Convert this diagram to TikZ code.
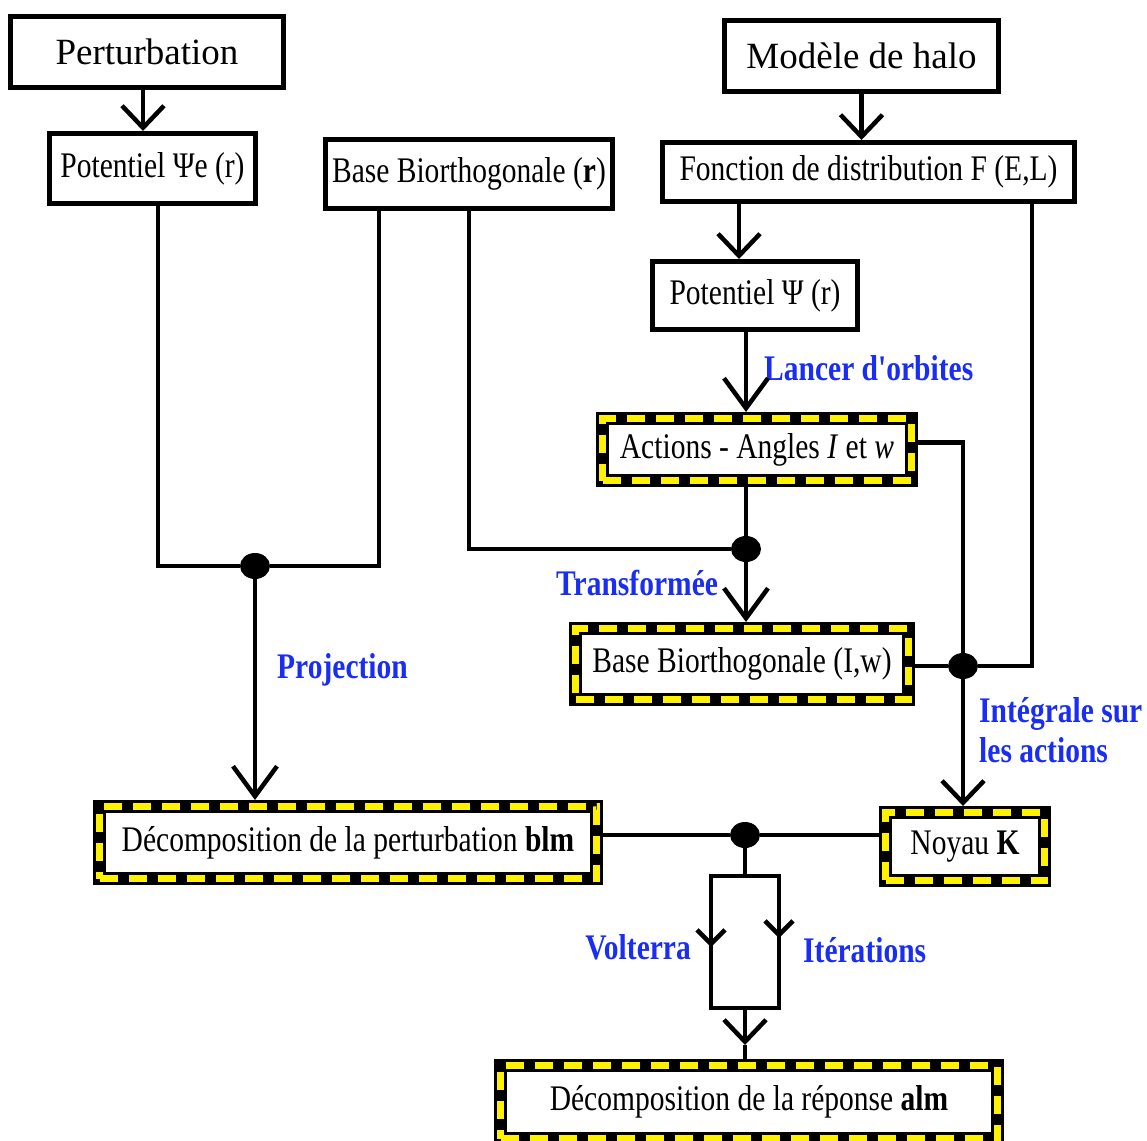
\documentclass[tikz,border=0pt]{standalone}
\usepackage{fontspec}
\setmainfont{Liberation Serif}
\newfontfamily\narrowserif{Liberation Serif}[FakeStretch=0.82]
\usetikzlibrary{arrows.meta,shapes.geometric}
\definecolor{lblblue}{RGB}{25,45,245}
\tikzset{
    %Define standard arrow tip
    >={Straight Barb[length=22pt,width=42pt]},
    %Define style for boxes
    box/.style={
        rectangle,
        draw=black, line width=5pt,
        inner sep=0pt,
        font=\narrowserif\fontsize{36}{40}\selectfont,
        text centered},
    titlebox/.style={
        box,
        font=\fontsize{37}{44}\selectfont},
    hatchbox/.style={
        rectangle,
        draw=black, line width=13pt,
        inner sep=0pt,
        font=\narrowserif\fontsize{36}{40}\selectfont,
        text centered,
        postaction={draw=yellow, line width=7pt, dash pattern=on 18pt off 11pt}},
    %Define style for connectors
    wire/.style={
        draw,
        line width=4.5pt},
    flow/.style={
        wire,
        ->},
    longflow/.style={
        wire,
        -{Straight Barb[length=30pt,width=44pt]}},
    smallflow/.style={
        wire,
        -{Straight Barb[length=14pt,width=28pt]}},
    dot/.style={
        ellipse,
        fill=black,
        inner sep=0pt,
        minimum width=30pt,
        minimum height=26pt},
    lbl/.style={
        text=lblblue,
        inner sep=0pt,
        font=\narrowserif\bfseries\fontsize{36}{40}\selectfont}
}

\begin{document}
\begin{tikzpicture}[x=1pt, y=-1pt]
    \useasboundingbox (0,0) rectangle (1147,1140);
    % boxes
    \node[titlebox, minimum width=273pt, minimum height=71pt] (perturb) at (147,52) {Perturbation};
    \node[box, minimum width=206pt, minimum height=70pt] (potE) at (152.5,168.5) {Potentiel Ψe (r)};
    \node[box, minimum width=287pt, minimum height=69pt] (baseR) at (469,174) {Base Biorthogonale (\textbf{r})};
    \node[titlebox, minimum width=274pt, minimum height=71pt] (halo) at (861.5,56) {Modèle de halo};
    \node[box, minimum width=412pt, minimum height=59pt] (fdist) at (868.5,172) {Fonction de distribution F (E,L)};
    \node[box, minimum width=205pt, minimum height=68pt] (pot) at (755,295.5) {Potentiel Ψ (r)};
    \node[hatchbox, minimum width=309pt, minimum height=62pt] (actions) at (757,449.5) {Actions - Angles \textit{I} et \textit{w}};
    \node[hatchbox, minimum width=333pt, minimum height=71pt] (baseIw) at (742,664) {Base Biorthogonale (I,w)};
    \node[hatchbox, minimum width=497pt, minimum height=72pt] (blm) at (348,842.5) {Décomposition de la perturbation \textbf{blm}};
    \node[hatchbox, minimum width=159pt, minimum height=68pt] (noyau) at (965,846.5) {Noyau \textbf{K}};
    \node[hatchbox, minimum width=497pt, minimum height=73pt] (alm) at (749,1102) {Décomposition de la réponse \textbf{alm}};
    \node[draw, line width=4.5pt, minimum width=68pt, minimum height=132pt, outer sep=0pt] (loop) at (745,942) {};
    % junctions
    \node[dot] (jproj) at (255,566) {};
    \node[dot] (jtrans) at (746,549) {};
    \node[dot] (jint) at (963,666) {};
    \node[dot] (jsum) at (745,835) {};
    % labels
    \node[lbl, anchor=west] (lancer) at (764,368) {Lancer d'orbites};
    \node[lbl, anchor=west] (transf) at (556,583) {Transformée};
    \node[lbl, anchor=west] (proj) at (277,670) {Projection};
    \node[lbl, anchor=west, align=left] (integ) at (979,730) {Intégrale sur\\les actions};
    \node[lbl, anchor=east] (volt) at (691,947) {Volterra};
    \node[lbl, anchor=west] (iter) at (803,950) {Itérations};
    % connectors
    \path[flow] ([xshift=-4pt]perturb.south) -- ([xshift=-4pt]perturb.south |- potE.north);
    \path[wire] ([xshift=5.5pt]potE.south) |- (jproj);
    \path[wire] (jproj) -| ([xshift=-90pt]baseR.south);
    \path[longflow] (jproj) -- (jproj |- blm.north);
    \path[wire] (baseR.south) |- (jtrans);
    \path[wire] (jtrans |- actions.south) -- (jtrans);
    \path[longflow] (jtrans) -- (jtrans |- baseIw.north);
    \path[flow] (halo.south) -- (halo.south |- fdist.north);
    \path[flow] ([xshift=-16pt]pot.north |- fdist.south) -- ([xshift=-16pt]pot.north);
    \path[longflow] ([xshift=-9pt]pot.south) -- ([xshift=-9pt]pot.south |- actions.north);
    \path[wire] ([yshift=7pt]actions.east) -| (jint);
    \path[wire] ([xshift=163.5pt]fdist.south) |- (jint);
    \path[wire] (baseIw.east |- jint) -- (jint);
    \path[flow] (jint) -- (jint |- noyau.north);
    \path[wire] (blm.east |- jsum) -- (jsum) -- (noyau.west |- jsum);
    \path[wire] (jsum) -- (loop.north);
    \path[smallflow] (loop.north west) -- ([yshift=-71pt]loop.north west);
    \path[smallflow] (loop.north east) -- ([yshift=-62pt]loop.north east);
    \path[flow] (loop.south) -- ([yshift=-37pt]loop.south);
    \path[wire] ([yshift=-37pt]loop.south) -- (loop.south |- alm.north);
\end{tikzpicture}
\end{document}
